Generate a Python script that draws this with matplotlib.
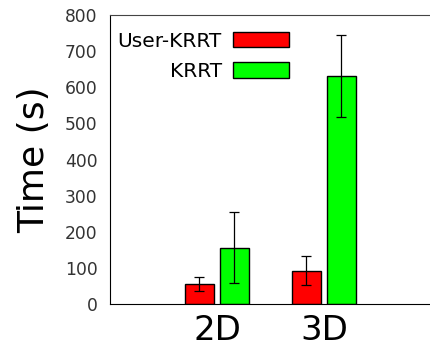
import numpy as np
import matplotlib
matplotlib.use('Agg')
import matplotlib.pyplot as plt

# data
groups = ['2D', '3D']
methods = ['User-KRRT', 'KRRT']
colors = ['#ff0000', '#00ff00']
mean_time = {
    'User-KRRT': [55, 92],
    'KRRT': [154, 630],
}
err_low = {
    'User-KRRT': [37, 53],
    'KRRT': [57, 517],
}
err_high = {
    'User-KRRT': [74, 133],
    'KRRT': [254, 746],
}

fig = plt.figure(figsize=(4.31, 3.53), dpi=100)
ax = fig.add_axes([0.2552, 0.1388, 0.7448, 0.8187])

x = np.arange(1, len(groups) + 1)
width = 0.27
offsets = [-0.167, 0.163]

for m, c, off in zip(methods, colors, offsets):
    vals = np.array(mean_time[m])
    lo = vals - np.array(err_low[m])
    hi = np.array(err_high[m]) - vals
    ax.bar(x + off, vals, width, color=c, edgecolor='black', linewidth=1.0, label=m)
    ax.errorbar(x + off, vals, yerr=[lo, hi], fmt='none', ecolor='black',
                elinewidth=0.9, capsize=3.3, capthick=0.9)

ax.set_xlim(0, 3)
ax.set_ylim(0, 800)
ax.set_yticks(np.arange(0, 801, 100))
ax.set_xticks(x)
ax.set_xticklabels(groups, fontsize=24.5)
ax.tick_params(axis='y', length=0, labelsize=12.3, pad=9, labelcolor='#333333')
ax.tick_params(axis='x', length=0, pad=7)
ax.set_ylabel('Time (s)', fontsize=26, labelpad=10)
ax.spines['right'].set_visible(False)
ax.spines['top'].set_color('#444444')

ax.legend(loc='upper right', bbox_to_anchor=(0.558, 0.942), frameon=False,
          markerfirst=False, fontsize=14.5, handlelength=2.8, handleheight=0.8,
          handletextpad=0.55, labelspacing=0.55, borderpad=0, borderaxespad=0)

fig.savefig('out.png', dpi=100)
